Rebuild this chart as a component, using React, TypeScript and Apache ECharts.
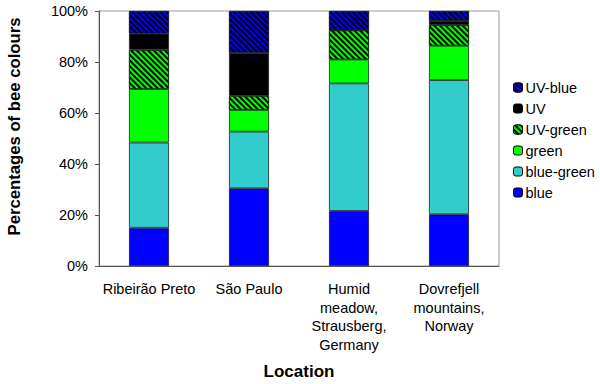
import React, { useEffect, useRef } from "react";
import * as echarts from "echarts";

const categories = [
  "Ribeirão Preto",
  "São Paulo",
  "Humid\nmeadow,\nStrausberg,\nGermany",
  "Dovrefjell\nmountains,\nNorway",
];
const blue = [15.0, 30.5, 21.6, 20.3];
const blueGreen = [33.4, 22.2, 50.0, 52.6];
const green = [21.0, 8.5, 9.4, 13.5];
const uvGreen = [15.3, 5.5, 11.4, 8.1];
const uv = [6.4, 16.9, 0, 1.6];
const uvBlue = [8.9, 16.4, 7.6, 3.9];
const yTicks = [0, 20, 40, 60, 80, 100];

const FONT = "'Liberation Sans', Arial, sans-serif";

function stripe(color: string) {
  return {
    symbol: "rect",
    symbolSize: 1,
    color,
    backgroundColor: "#000000",
    dashArrayX: [1, 0],
    dashArrayY: [1.6, 1.6],
    rotation: Math.PI / 4,
  };
}

export default function App() {
  const ref = useRef<HTMLDivElement>(null);
  useEffect(() => {
    const chart = echarts.init(ref.current!, null, { renderer: "svg" });
    const mk = (name: string, data: number[], color: string, decal?: any) => ({
      name,
      type: "bar",
      stack: "total",
      barWidth: "40%",
      data,
      itemStyle: {
        color,
        borderColor: "#222",
        borderWidth: 0.8,
        ...(decal ? { decal } : {}),
      },
    });
    chart.setOption({
      animation: false,
      backgroundColor: "#ffffff",
      textStyle: { fontFamily: FONT },
      grid: {
        left: 99,
        right: 101,
        top: 11,
        bottom: 118,
        show: true,
        borderColor: "#999",
        borderWidth: 1,
        containLabel: false,
        outerBoundsMode: "none",
      },
      graphic: [
        {
          type: "text",
          x: 14,
          y: 126.5,
          rotation: Math.PI / 2,
          style: {
            text: "Percentages of bee colours",
            fontSize: 16.7,
            fontWeight: "bold",
            fontFamily: FONT,
            fill: "#000",
            align: "center",
            verticalAlign: "middle",
          },
        },
      ],
      legend: {
        orient: "vertical",
        left: 508,
        top: 75,
        itemWidth: 9,
        itemHeight: 9,
        itemGap: 6,
        data: ["UV-blue", "UV", "UV-green", "green", "blue-green", "blue"],
        textStyle: { fontSize: 14.5, color: "#000", fontFamily: FONT, padding: [0, 0, 0, -2] },
        itemStyle: { borderColor: "#000", borderWidth: 1 },
      },
      xAxis: {
        type: "category",
        data: categories,
        name: "Location",
        nameLocation: "middle",
        nameGap: 97,
        nameTextStyle: { fontSize: 17, fontWeight: "bold", color: "#000", fontFamily: FONT },
        axisLine: { lineStyle: { color: "#555" } },
        axisTick: { show: false },
        axisLabel: {
          color: "#000",
          fontSize: 14.5,
          margin: 14,
          lineHeight: 18.5,
          fontFamily: FONT,
          interval: 0,
        },
      },
      yAxis: {
        type: "value",
        min: 0,
        max: 100,
        interval: 20,
        axisLine: { show: true, lineStyle: { color: "#555" } },
        axisTick: { show: true, inside: false, length: 4, lineStyle: { color: "#555" } },
        splitLine: { show: false },
        axisLabel: {
          color: "#000",
          fontSize: 14.5,
          margin: 11,
          fontFamily: FONT,
          formatter: (v: number) => (yTicks.includes(v) ? v + "%" : ""),
        },
      },
      series: [
        mk("blue", blue, "#0000ff"),
        mk("blue-green", blueGreen, "#33cccc"),
        mk("green", green, "#00ff00"),
        mk("UV-green", uvGreen, "#000000", stripe("#00ff00")),
        mk("UV", uv, "#000000"),
        mk("UV-blue", uvBlue, "#000000", stripe("#0000ff")),
      ],
    });
    return () => chart.dispose();
  }, []);
  return <div ref={ref} style={{ width: 600, height: 384, position: "absolute", left: 0, top: 0 }} />;
}
